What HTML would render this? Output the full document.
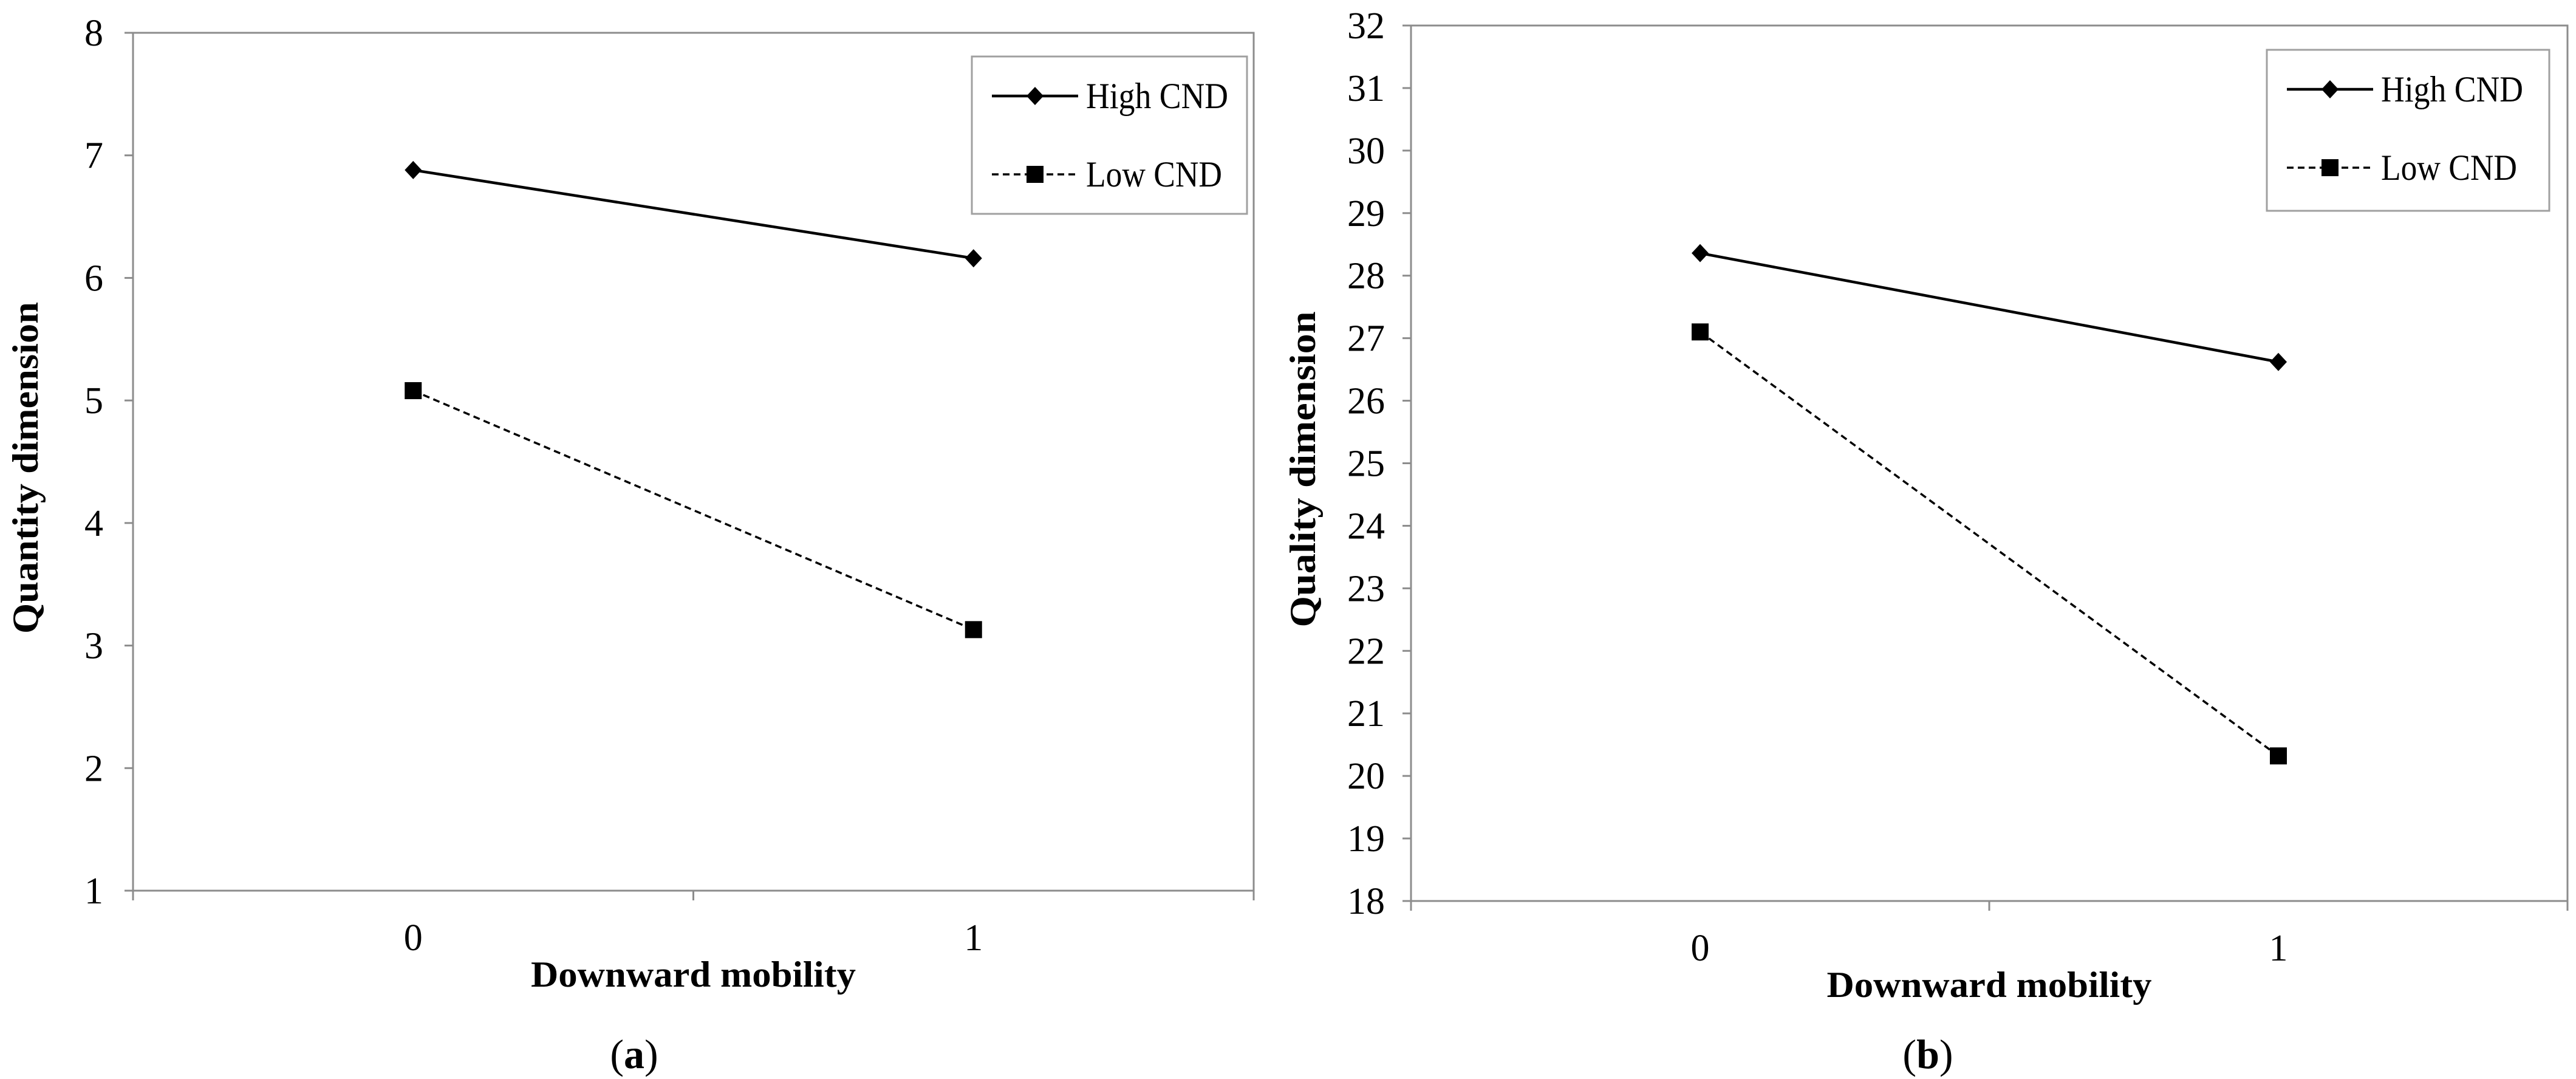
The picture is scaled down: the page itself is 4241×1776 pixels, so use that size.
<!DOCTYPE html>
<html><head><meta charset="utf-8"><style>
html,body{margin:0;padding:0;background:#fff}
svg{display:block}
text{font-family:"Liberation Serif",serif;fill:#000}
</style></head><body>
<svg id="fig" width="4241" height="1776" viewBox="0 0 4241 1776" xmlns="http://www.w3.org/2000/svg"></svg>
<script>
const categories = ["0", "1"];
const seriesNames = ["High CND", "Low CND"];
const aHigh = [6.88, 6.16];
const aLow = [5.08, 3.13];
const aTicks = [1, 2, 3, 4, 5, 6, 7, 8];
const bHigh = [28.36, 26.62];
const bLow = [27.10, 20.32];
const bTicks = [18, 19, 20, 21, 22, 23, 24, 25, 26, 27, 28, 29, 30, 31, 32];

const NS = "http://www.w3.org/2000/svg";
const svg = document.getElementById("fig");
function mk(tag, attrs, parent, txt) {
  const e = document.createElementNS(NS, tag);
  for (const k in attrs) e.setAttribute(k, attrs[k]);
  if (txt !== undefined) e.textContent = txt;
  (parent || svg).appendChild(e);
  return e;
}
function panel(id, L, R, T, B, ticks, high, low, yTitle, yTitleLen, tickLabelX, yTitleX, leg, caption, capX) {
  const g = mk("g", {});
  
  
  const yMin = ticks[0], yMax = ticks[ticks.length - 1];
  const ys = v => B - (v - yMin) / (yMax - yMin) * (B - T);
  const xs = i => L + (R - L) * (0.25 + 0.5 * i);
  const frame = mk("rect", {x: L, y: T, width: R - L, height: B - T, fill: "none", stroke: "#8c8c8c", "stroke-width": 3}, g);
  
  
  ticks.forEach(t => {
    const tk = mk("line", {x1: L - 14, x2: L, y1: ys(t), y2: ys(t), stroke: "#8c8c8c", "stroke-width": 3}, g);
    
    
    const lb = mk("text", {x: tickLabelX, y: ys(t) + 21, "font-size": 62, "text-anchor": "end"}, g, String(t));
    
    
  });
  [L, (L + R) / 2, R].forEach(x => {
    const tk = mk("line", {x1: x, x2: x, y1: B, y2: B + 16, stroke: "#8c8c8c", "stroke-width": 3}, g);
    
    
  });
  categories.forEach((c, i) => {
    const lb = mk("text", {x: xs(i), y: B + 98, "font-size": 62, "text-anchor": "middle"}, g, c);
    
    
  });
  const xt = mk("text", {x: (L + R) / 2, y: B + 158, "font-size": 60, "font-weight": "bold", "text-anchor": "middle", textLength: 535, lengthAdjust: "spacingAndGlyphs"}, g, "Downward mobility");
  
  
  const yc = (T + B) / 2 + 10;
  const yt = mk("text", {x: 0, y: 0, "font-size": 60, "font-weight": "bold", "text-anchor": "middle", textLength: yTitleLen, lengthAdjust: "spacingAndGlyphs", transform: `translate(${yTitleX},${yc}) rotate(-90)`}, g, yTitle);
  
  
  const hl = mk("polyline", {points: high.map((v, i) => xs(i) + "," + ys(v)).join(" "), fill: "none", stroke: "#000", "stroke-width": 4.5}, g);
  
  
  const ll = mk("polyline", {points: low.map((v, i) => xs(i) + "," + ys(v)).join(" "), fill: "none", stroke: "#000", "stroke-width": 3.5, "stroke-dasharray": "11,7"}, g);
  
  
  high.forEach((v, i) => {
    const x = xs(i), y = ys(v);
    const m = mk("polygon", {points: `${x - 14},${y} ${x},${y - 15} ${x + 14},${y} ${x},${y + 15}`, fill: "#000"}, g);
    
    
  });
  low.forEach((v, i) => {
    const x = xs(i), y = ys(v);
    const m = mk("rect", {x: x - 14, y: y - 14, width: 28, height: 28, fill: "#000"}, g);
    
    
  });
  const lg = mk("g", {}, g);
  
  
  mk("rect", {x: leg.x, y: leg.y, width: leg.w, height: leg.h, fill: "#fff", stroke: "#a0a0a0", "stroke-width": 3}, lg);
  const r1 = leg.y + 65, r2 = leg.y + 194, lx = leg.x + 33;
  mk("line", {x1: lx, x2: lx + 142, y1: r1, y2: r1, stroke: "#000", "stroke-width": 4.5}, lg);
  mk("polygon", {points: `${lx + 57},${r1} ${lx + 71},${r1 - 15} ${lx + 85},${r1} ${lx + 71},${r1 + 15}`, fill: "#000"}, lg);
  const t1 = mk("text", {x: lx + 155, y: r1 + 20, "font-size": 60, textLength: 234, lengthAdjust: "spacingAndGlyphs"}, lg, seriesNames[0]);
  
  
  mk("line", {x1: lx, x2: lx + 142, y1: r2, y2: r2, stroke: "#000", "stroke-width": 3.5, "stroke-dasharray": "11,7"}, lg);
  mk("rect", {x: lx + 57, y: r2 - 14, width: 28, height: 28, fill: "#000"}, lg);
  const t2 = mk("text", {x: lx + 155, y: r2 + 20, "font-size": 60, textLength: 224, lengthAdjust: "spacingAndGlyphs"}, lg, seriesNames[1]);
  
  
  const cp = mk("text", {x: capX, y: 1758, "font-size": 68, "text-anchor": "middle"}, g);
  
  
  mk("tspan", {}, cp, "(");
  mk("tspan", {"font-weight": "bold"}, cp, caption);
  mk("tspan", {}, cp, ")");
}
panel("panel-a", 219, 2064, 54, 1466, aTicks, aHigh, aLow, "Quantity  dimension", 546, 170, 62, {x: 1600, y: 93, w: 453, h: 259}, "a", 1044);
panel("panel-b", 2323, 4227, 42, 1483, bTicks, bHigh, bLow, "Quality  dimension", 520, 2280, 2165, {x: 3732, y: 82, w: 465, h: 265}, "b", 3174);
</script>
</body></html>
